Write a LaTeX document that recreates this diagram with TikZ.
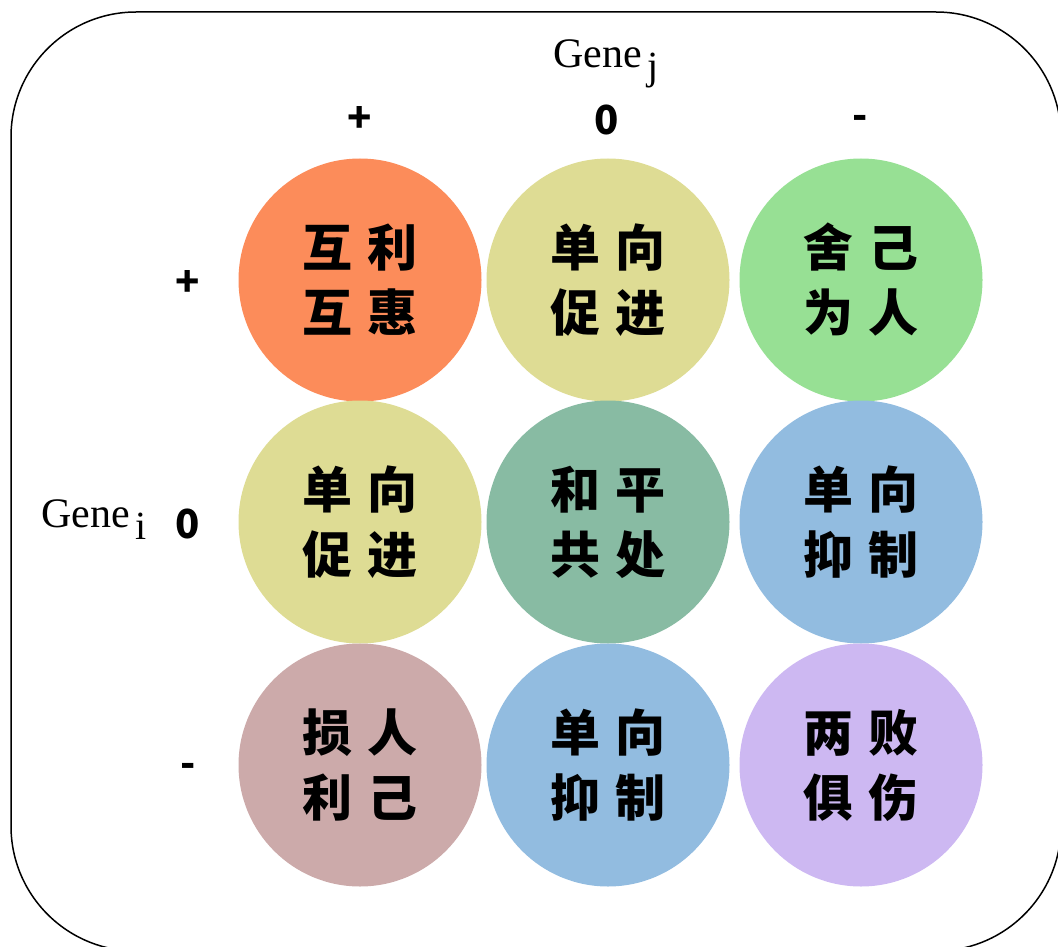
\documentclass[tikz,border=0pt]{standalone}
\usepackage{fontspec}
\setmainfont{Liberation Serif}
\newfontfamily\cjk{Noto Sans CJK SC}
\definecolor{cOrange}{HTML}{FC8C5A}
\definecolor{cYellow}{HTML}{DEDC94}
\definecolor{cGreen}{HTML}{97E094}
\definecolor{cTeal}{HTML}{88BBA3}
\definecolor{cBlue}{HTML}{92BCE0}
\definecolor{cMauve}{HTML}{CCAAAA}
\definecolor{cLav}{HTML}{CDB8F2}
\tikzset{
  cell/.style={circle, minimum size=243pt, inner sep=0pt, fill=#1, draw=none,
    font=\cjk\bfseries\fontsize{50}{65}\selectfont, align=center, text=black},
  sign/.style={font=\cjk\bfseries\fontsize{40}{40}\selectfont, inner sep=0pt},
  genelab/.style={font=\fontsize{42}{42}\selectfont, inner sep=0pt, anchor=base west}
}
\newcommand{\gap}{\hspace{15pt}}
\newcommand{\gsub}[1]{\hspace{6pt}\raisebox{-12pt}{\fontsize{40}{40}\selectfont #1}}
\begin{document}
\begin{tikzpicture}[x=1pt,y=-1pt]
\useasboundingbox (0,0) rectangle (1058,947);
\clip (0,0) rectangle (1058,947);
\draw[line width=1.5pt, rounded corners=125pt] (11,12) rectangle (1061,951);
% headers
\node[genelab] (gj) at (553,68) {Gene\gsub{j}};
\node[genelab] (gi) at (41,527) {Gene\gsub{i}};
\node[sign] (cp) at (360,120) {+};
\node[sign] (c0) at (607,120) {0};
\node[sign] (cm) at (860,122) {-};
\node[sign] (rp) at (188,283) {+};
\node[sign] (r0) at (188,524) {0};
\node[sign] (rm) at (188,770) {-};
% cells
\node[cell=cOrange] (a11) at (360,280) {互\gap 利\\互\gap 惠};
\node[cell=cYellow] (a12) at (608,280) {单\gap 向\\促\gap 进};
\node[cell=cGreen]  (a13) at (861,280) {舍\gap 己\\为\gap 人};
\node[cell=cYellow] (a21) at (360,522) {单\gap 向\\促\gap 进};
\node[cell=cTeal]   (a22) at (608,522) {和\gap 平\\共\gap 处};
\node[cell=cBlue]   (a23) at (861,522) {单\gap 向\\抑\gap 制};
\node[cell=cMauve]  (a31) at (360,765) {损\gap 人\\利\gap 己};
\node[cell=cBlue]   (a32) at (608,765) {单\gap 向\\抑\gap 制};
\node[cell=cLav]    (a33) at (861,765) {两\gap 败\\俱\gap 伤};
\end{tikzpicture}
\end{document}
